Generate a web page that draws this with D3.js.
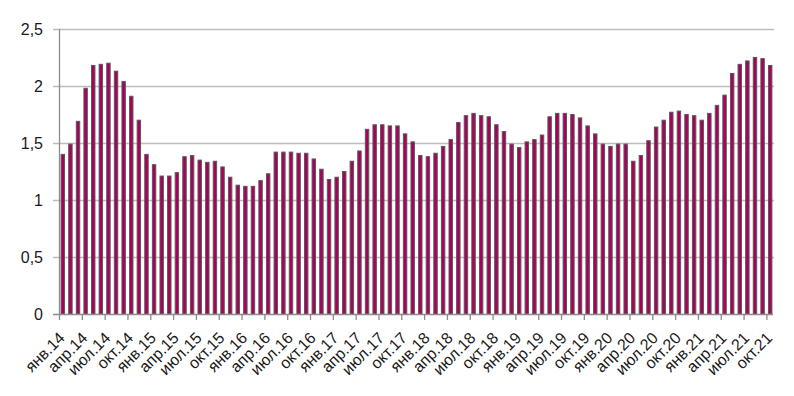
<!DOCTYPE html>
<html>
<head>
<meta charset="utf-8">
<script src="https://cdn.jsdelivr.net/npm/d3@7"></script>
<style>
  body { margin: 0; background: #fff; }
  text { font-family: "Liberation Sans", Arial, sans-serif; }
</style>
</head>
<body>
<script>
var width = 794, height = 396

// month names and years for the categories (Jan 2014 - Oct 2021)
var monthNames = ["янв.", "фев.", "мар.", "апр.", "май.", "июн.", "июл.", "авг.", "сен.", "окт.", "ноя.", "дек."]
var years = ["14", "15", "16", "17", "18", "19", "20", "21"]

var values = [
  1.40, 1.49, 1.69, 1.98, 2.18, 2.19, 2.20, 2.13, 2.04, 1.91, 1.70, 1.40,
  1.31, 1.21, 1.21, 1.24, 1.38, 1.39, 1.35, 1.33, 1.34, 1.29, 1.20, 1.13,
  1.12, 1.12, 1.17, 1.23, 1.42, 1.42, 1.42, 1.41, 1.41, 1.36, 1.27, 1.18,
  1.20, 1.25, 1.34, 1.43, 1.62, 1.66, 1.66, 1.65, 1.65, 1.58, 1.51, 1.39,
  1.38, 1.41, 1.47, 1.53, 1.68, 1.74, 1.76, 1.74, 1.73, 1.66, 1.60, 1.49,
  1.46, 1.51, 1.53, 1.57, 1.73, 1.76, 1.76, 1.75, 1.72, 1.65, 1.58, 1.49,
  1.47, 1.49, 1.49, 1.34, 1.39, 1.52, 1.64, 1.70, 1.77, 1.78, 1.75, 1.74,
  1.70, 1.76, 1.83, 1.92, 2.11, 2.19, 2.22, 2.25, 2.24, 2.18
]

var yTicks = [0, 0.5, 1, 1.5, 2, 2.5]

var categories = []
years.forEach(function(yr) {
  monthNames.forEach(function(m) {
    if (categories.length < values.length) categories.push(m + yr)
  })
})

var plotLeft = 59, plotRight = 774, plotTop = 29, plotBottom = 314

var x = d3.scaleBand().domain(categories).range([plotLeft, plotRight]).paddingInner(0.55).paddingOuter(0.275)
var xOuter = d3.scaleBand().domain(categories).range([plotLeft, plotRight])
var y = d3.scaleLinear().domain([0, 2.5]).range([plotBottom, plotTop])

var svg = d3.select("body").append("svg")
            .attr("width", width)
            .attr("height", height)

// grid lines + y ticks
svg.append("g").selectAll("line")
   .data(yTicks.filter(function(d) { return d > 0 }))
   .enter().append("line")
   .attr("x1", plotLeft - 6).attr("x2", plotRight)
   .attr("y1", function(d) { return Math.round(y(d)) + 0.5 })
   .attr("y2", function(d) { return Math.round(y(d)) + 0.5 })
   .style("stroke", "#bdbdbd")
   .style("stroke-width", 1.3)

svg.append("g").selectAll("text")
   .data(yTicks)
   .enter().append("text")
   .attr("x", 43)
   .attr("y", function(d) { return y(d) })
   .attr("dy", "0.36em")
   .attr("text-anchor", "end")
   .style("font-size", "16px")
   .style("fill", "#1a1a1a")
   .text(function(d) { return d3.format(".1~f")(d).replace(".", ",") })

// bars
svg.append("g").selectAll("rect")
   .data(values)
   .enter().append("rect")
   .attr("x", function(d, i) { return x(categories[i]) })
   .attr("width", x.bandwidth())
   .attr("y", function(d) { return y(d) })
   .attr("height", function(d) { return plotBottom - y(d) })
   .style("fill", "#aa005c")
   .style("stroke", "#5a5a5a")
   .style("stroke-width", 1)

// axes lines
svg.append("line")
   .attr("x1", plotLeft + 0.5).attr("x2", plotLeft + 0.5)
   .attr("y1", plotTop).attr("y2", plotBottom)
   .style("stroke", "#8c8c8c").style("stroke-width", 1.3)
svg.append("line")
   .attr("x1", plotLeft - 6).attr("x2", plotRight - 1)
   .attr("y1", plotBottom + 0.5).attr("y2", plotBottom + 0.5)
   .style("stroke", "#8c8c8c").style("stroke-width", 1.3)

// x tick marks every 3 months
var tickIdx = d3.range(0, categories.length, 3)
svg.append("g").selectAll("line")
   .data(tickIdx)
   .enter().append("line")
   .attr("x1", function(i) { return xOuter(categories[i]) + 0.5 })
   .attr("x2", function(i) { return xOuter(categories[i]) + 0.5 })
   .attr("y1", plotBottom).attr("y2", plotBottom + 6)
   .style("stroke", "#8c8c8c").style("stroke-width", 1.3)

// x labels
svg.append("g").selectAll("text")
   .data(tickIdx)
   .enter().append("text")
   .attr("transform", function(i) {
     var cx = xOuter(categories[i]) + xOuter.bandwidth() / 2
     return "translate(" + (cx + 3) + "," + (plotBottom + 25) + ") rotate(-45)"
   })
   .attr("text-anchor", "end")
   .style("font-size", "16px")
   .style("fill", "#1a1a1a")
   .text(function(i) { return categories[i] })
</script>
</body>
</html>
